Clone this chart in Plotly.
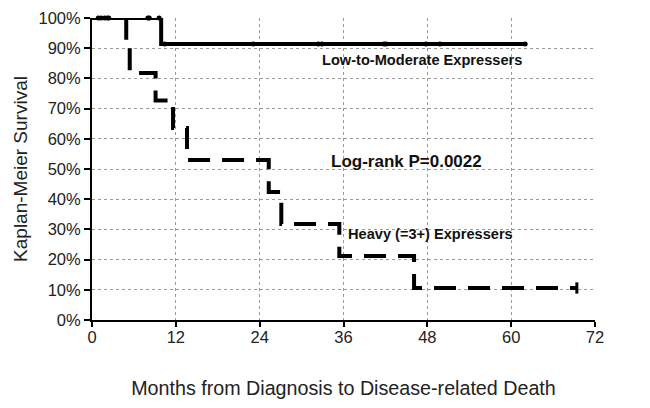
import plotly.graph_objects as go

# Heavy (=3+) expressers: KM step times (months) and survival
heavy_times = [0, 4.9, 5.4, 9.1, 11.6, 13.6, 25.3, 27.1, 35.4, 46.1, 69.4]
heavy_surv = [1.0, 0.909, 0.818, 0.727, 0.636, 0.530, 0.424, 0.318, 0.212, 0.106, 0.106]
heavy_censor_t = [69.4]
heavy_censor_s = [0.106]

# Low-to-moderate expressers
low_times = [0, 9.9, 62.0]
low_surv = [1.0, 0.914, 0.914]
low_censor_t = [0.9, 1.3, 1.8, 2.2, 2.4, 8.0, 8.2, 9.6,
                10.4, 23.1, 32.4, 32.9, 41.8, 42.1, 47.8, 49.8, 62.0]
low_censor_s = [1.0, 1.0, 1.0, 1.0, 1.0, 1.0, 1.0, 1.0,
                0.914, 0.914, 0.914, 0.914, 0.914, 0.914, 0.914, 0.914, 0.914]

x_ticks = [0, 12, 24, 36, 48, 60, 72]
y_ticks = [0, 0.1, 0.2, 0.3, 0.4, 0.5, 0.6, 0.7, 0.8, 0.9, 1.0]
y_ticklabels = ["0%", "10%", "20%", "30%", "40%", "50%", "60%", "70%", "80%", "90%", "100%"]

FONT = "Liberation Sans, Arial, sans-serif"

fig = go.Figure()
fig.add_trace(go.Scatter(x=low_times, y=low_surv, mode="lines", line_shape="hv",
                         line=dict(color="black", width=4), showlegend=False))
fig.add_trace(go.Scatter(x=low_censor_t, y=low_censor_s, mode="markers",
                         marker=dict(symbol="circle", size=5, color="black"),
                         showlegend=False, cliponaxis=False))
fig.add_trace(go.Scatter(x=heavy_times, y=heavy_surv, mode="lines", line_shape="hv",
                         line=dict(color="black", width=4, dash="22px,12px"),
                         showlegend=False))
fig.add_trace(go.Scatter(x=heavy_censor_t, y=heavy_censor_s, mode="markers",
                         marker=dict(symbol="line-ns", size=8,
                                     line=dict(color="black", width=3)),
                         showlegend=False))

fig.add_annotation(x=47.3, y=0.86, text="<b>Low-to-Moderate Expressers</b>",
                   showarrow=False, font=dict(family=FONT, size=14.6, color="#111"))
fig.add_annotation(x=45.0, y=0.525, text="<b>Log-rank P=0.0022</b>",
                   showarrow=False, font=dict(family=FONT, size=17, color="#111"))
fig.add_annotation(x=48.5, y=0.285, text="<b>Heavy (=3+) Expressers</b>",
                   showarrow=False, font=dict(family=FONT, size=14.6, color="#111"))

fig.update_xaxes(range=[0, 72], tickvals=x_ticks, ticktext=[str(v) for v in x_ticks],
                 showline=True, linecolor="black", linewidth=2,
                 ticks="outside", ticklen=5, tickcolor="black", tickwidth=1.5,
                 ticklabelstandoff=-4, ticklabeloverflow="allow", automargin=False,
                 showgrid=True, gridcolor="#9a9a9a", gridwidth=1, griddash="3px,3px",
                 zeroline=False,
                 tickfont=dict(family=FONT, size=16.5, color="#222"),
                 title=dict(text="Months from Diagnosis to Disease-related Death",
                            font=dict(family=FONT, size=19.7, color="#222"), standoff=36))
fig.update_yaxes(range=[0, 1.0], tickvals=y_ticks, ticktext=y_ticklabels,
                 showline=True, linecolor="black", linewidth=2,
                 ticks="outside", ticklen=6, tickcolor="black", tickwidth=1.5,
                 ticklabeloverflow="allow", automargin=False,
                 showgrid=True, gridcolor="#9a9a9a", gridwidth=1, griddash="3px,3px",
                 zeroline=False,
                 tickfont=dict(family=FONT, size=16.5, color="#222"),
                 title=dict(text="Kaplan-Meier Survival",
                            font=dict(family=FONT, size=19, color="#222"), standoff=6))

# page body has an 8px default margin, so the figure is sized to fit the window
fig.update_layout(width=642, height=400, margin=dict(l=84, r=55, t=10, b=88),
                  plot_bgcolor="white", paper_bgcolor="white", showlegend=False)

fig.write_html("out.html")
